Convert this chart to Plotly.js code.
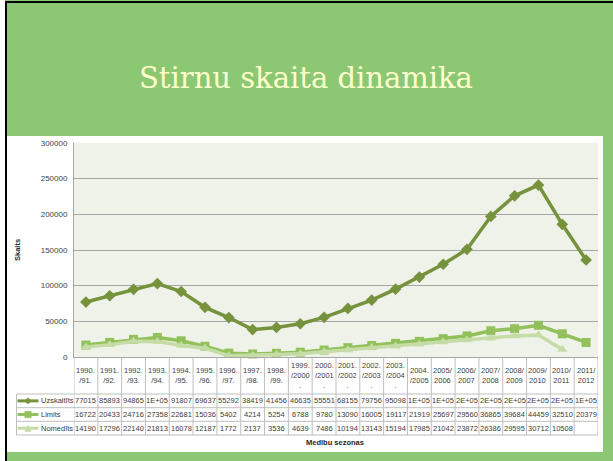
<!DOCTYPE html>
<html>
<head>
<meta charset="utf-8">
<script src="https://cdn.plot.ly/plotly-3.0.1.min.js"></script>
<style>html,body{margin:0;padding:0;background:#fff;}#chart{width:613px;height:461px;}</style>
</head>
<body>
<div id="chart"></div>
<script>
// ---- data ----
const seasons = [
  "1990.\n/91.", "1991.\n/92.", "1992.\n/93.", "1993.\n/94.", "1994.\n/95.",
  "1995.\n/96.", "1996.\n/97.", "1997.\n/98.", "1998.\n/99.",
  "1999.\n/2000\n.", "2000.\n/2001\n.", "2001.\n/2002\n.", "2002.\n/2003\n.", "2003.\n/2004\n.",
  "2004.\n/2005", "2005/\n2006", "2006/\n2007", "2007/\n2008", "2008/\n2009",
  "2009/\n2010", "2010/\n2011", "2011/\n2012"
];
const uzskaitits = [77015, 85893, 94865, 103000, 91807, 69637, 55292, 38419, 41456, 46635, 55551,
  68155, 79756, 95098, 112000, 130000, 151000, 197000, 226000, 241000, 186000, 136000];
const limits = [16722, 20433, 24716, 27358, 22681, 15036, 5402, 4214, 5254, 6788, 9780,
  13090, 16005, 19117, 21919, 25697, 29560, 36865, 39684, 44459, 32510, 20379];
const nomedits = [14190, 17296, 22140, 21813, 16078, 12187, 1772, 2137, 3536, 4639, 7486,
  10194, 13143, 15194, 17985, 21042, 23872, 26386, 29595, 30712, 10508, null];
const seriesNames = ["Uzskaitīts", "Limits", "Nomedīts"];
const slideTitle = "Stirnu skaita dinamika";
const yTitle = "Skaits";
const xTitle = "Medību sezonas";

// ---- layout helpers (pixel -> paper) ----
const L = 74, R = 598, T = 143, B = 357;
const px = x => (x - L) / (R - L);
const py = y => (B - y) / (B - T);
const cats = seasons.map(s => s.replace(/\n/g, "<br>"));
const colors = ["#76923c", "#92c05a", "#c6dca6"];
const symbols = ["diamond", "square", "triangle-up"];
const seriesData = [uzskaitits, limits, nomedits];
const FONT = "Liberation Sans";
const TXT = "#404040";

function excelGeneral(v) {
  if (v === null || v === undefined) return "";
  if (v >= 100000) {
    const e = Math.floor(Math.log10(v));
    const m = Math.round(v / Math.pow(10, e));
    return m + "E+" + String(e).padStart(2, "0");
  }
  return String(v);
}

const traces = seriesData.map((d, k) => ({
  type: "scatter", mode: "lines+markers", name: seriesNames[k],
  x: cats, y: d, connectgaps: false, cliponaxis: false,
  line: {color: colors[k], width: 3.5},
  marker: {symbol: symbols[k], size: 9, color: colors[k]},
  showlegend: false
}));

const shapes = [];
const annotations = [];
// slide decorations
shapes.push({type: "rect", xref: "paper", yref: "paper", x0: px(7), x1: px(603), y0: py(452), y1: py(136),
  fillcolor: "#ffffff", line: {width: 0}, layer: "below"});
shapes.push({type: "rect", xref: "paper", yref: "paper", x0: 0, x1: 1, y0: 0, y1: 1,
  fillcolor: "#eef2e8", line: {width: 0}, layer: "below"});
shapes.push({type: "rect", xref: "paper", yref: "paper", x0: px(0), x1: px(5), y0: py(461), y1: py(0),
  fillcolor: "#ffffff", line: {width: 0}, layer: "below"});
shapes.push({type: "rect", xref: "paper", yref: "paper", x0: px(5), x1: px(7), y0: py(461), y1: py(1),
  fillcolor: "#000000", line: {width: 0}, layer: "below"});
shapes.push({type: "rect", xref: "paper", yref: "paper", x0: px(5), x1: px(613), y0: py(3), y1: py(1),
  fillcolor: "#000000", line: {width: 0}, layer: "below"});

// data table grid
const gridC = "#bfbfbf";
const rowEdges = [394, 407.7, 421.3, 435];
rowEdges.forEach(y => shapes.push({type: "line", xref: "paper", yref: "paper",
  x0: px(16.5), x1: 1, y0: py(y), y1: py(y), line: {color: gridC, width: 1}, layer: "below"}));
for (let i = 0; i <= cats.length; i++) {
  shapes.push({type: "line", xref: "x", yref: "paper", x0: i - 0.5, x1: i - 0.5,
    y0: py(357), y1: py(435), line: {color: gridC, width: 1}, layer: "below"});
}
shapes.push({type: "line", xref: "paper", yref: "paper", x0: px(16.5), x1: px(16.5),
  y0: py(394), y1: py(435), line: {color: gridC, width: 1}, layer: "below"});

// header labels
cats.forEach((c, i) => annotations.push({xref: "x", yref: "paper", x: i, y: py(375.5),
  text: c, showarrow: false, xanchor: "center", yanchor: "middle",
  font: {family: FONT, size: 7.5, color: TXT}}));

// rows
const rowCenters = [400.9, 414.5, 428.2];
seriesData.forEach((d, k) => {
  d.forEach((v, i) => annotations.push({xref: "x", yref: "paper", x: i, y: py(rowCenters[k]),
    text: excelGeneral(v), showarrow: false, xanchor: "center", yanchor: "middle",
    font: {family: FONT, size: 7.5, color: TXT}}));
  annotations.push({xref: "paper", yref: "paper", x: px(39), y: py(rowCenters[k]),
    text: seriesNames[k], showarrow: false, xanchor: "left", yanchor: "middle",
    font: {family: FONT, size: 7.5, color: TXT}});
  const yc = py(rowCenters[k]);
  shapes.push({type: "line", xref: "paper", yref: "paper", x0: px(17.5), x1: px(38.5), y0: yc, y1: yc,
    line: {color: colors[k], width: 3}, layer: "above"});
  const cx = 28, cy = rowCenters[k], s = 3.2;
  let path;
  if (k === 0) path = `M${px(cx)},${py(cy - s)} L${px(cx + s)},${py(cy)} L${px(cx)},${py(cy + s)} L${px(cx - s)},${py(cy)} Z`;
  else if (k === 1) path = `M${px(cx - s)},${py(cy - s)} L${px(cx + s)},${py(cy - s)} L${px(cx + s)},${py(cy + s)} L${px(cx - s)},${py(cy + s)} Z`;
  else path = `M${px(cx)},${py(cy - s)} L${px(cx + s)},${py(cy + s)} L${px(cx - s)},${py(cy + s)} Z`;
  shapes.push({type: "path", xref: "paper", yref: "paper", path: path,
    fillcolor: colors[k], line: {color: colors[k], width: 0.5}, layer: "above"});
});

// titles
annotations.push({xref: "paper", yref: "paper", x: px(306), y: py(78), text: slideTitle,
  showarrow: false, xanchor: "center", yanchor: "middle",
  font: {family: "DejaVu Serif", size: 29, color: "#ffffcc"}});
annotations.push({xref: "paper", yref: "paper", x: px(17), y: 0.5, text: "<b>" + yTitle + "</b>",
  textangle: -90, showarrow: false, xanchor: "center", yanchor: "middle",
  font: {family: FONT, size: 7.5, color: "#262626"}});
annotations.push({xref: "paper", yref: "paper", x: px(335), y: py(442), text: "<b>" + xTitle + "</b>",
  showarrow: false, xanchor: "center", yanchor: "middle",
  font: {family: FONT, size: 7.5, color: "#262626"}});

const layout = {
  width: 613, height: 461, autosize: false,
  margin: {l: L, r: 613 - R, t: T, b: 461 - B, pad: 0},
  paper_bgcolor: "#8cc873", plot_bgcolor: "rgba(0,0,0,0)",
  showlegend: false,
  font: {family: FONT},
  xaxis: {type: "category", categoryarray: cats, range: [-0.5, cats.length - 0.5],
    showticklabels: false, ticks: "", showgrid: false, zeroline: false,
    showline: true, linecolor: "#a6a6a6", linewidth: 1, fixedrange: true},
  yaxis: {range: [0, 300000], dtick: 50000, tickformat: "d", ticks: "",
    showgrid: true, gridcolor: "#a6a6a6", gridwidth: 1, zeroline: false,
    showline: true, linecolor: "#a6a6a6", linewidth: 1,
    tickfont: {family: FONT, size: 8, color: TXT}, ticklabelstandoff: 4, fixedrange: true},
  shapes: shapes,
  annotations: annotations
};

Plotly.newPlot("chart", traces, layout, {displayModeBar: false, staticPlot: true});
</script>
</body>
</html>
